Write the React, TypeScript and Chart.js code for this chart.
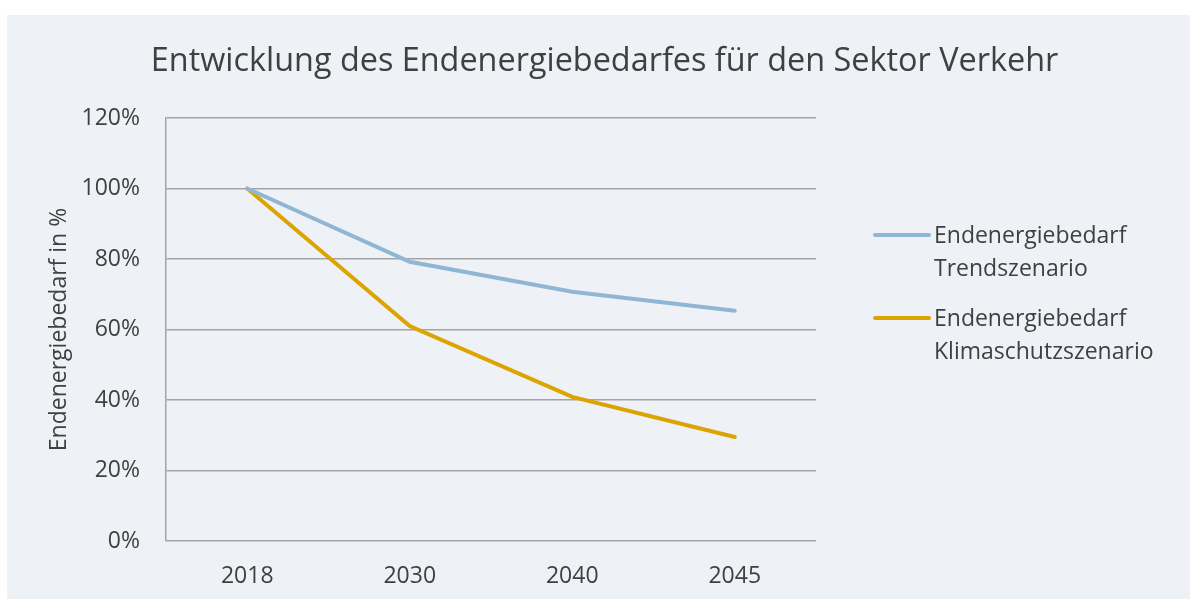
import React, { useEffect, useRef } from "react";
import { Chart, registerables } from "chart.js";

Chart.register(...registerables);

const categories = ["2018", "2030", "2040", "2045"];
const trendValues = [100, 79.2, 70.7, 65.3];
const klimaValues = [100, 61.0, 40.9, 29.5];
const seriesLabels = ["Endenergiebedarf Trendszenario", "Endenergiebedarf Klimaschutzszenario"];
const seriesColors = ["#8FB6D3", "#DCA400"];
const yMin = 0;
const yMax = 120;
const yStep = 20;
const chartTitle = "Entwicklung des Endenergiebedarfes für den Sektor Verkehr";
const yAxisTitle = "Endenergiebedarf in %";

const FONT = "'Open Sans', sans-serif";
const TEXT = "#404040";
const GRID = "#A3A3A3";
const SMALL = 23;

const overlay = {
  id: "overlay",
  afterDraw(chart: any) {
    const ctx = chart.ctx;
    const area = chart.chartArea;
    ctx.save();
    // title
    ctx.font = `32.4px ${FONT}`;
    ctx.fillStyle = TEXT;
    ctx.textAlign = "center";
    ctx.textBaseline = "middle";
    ctx.fillText(chartTitle, 597.5, 47);
    // legend
    const lineX0 = area.right + 59;
    const lineX1 = lineX0 + 54;
    const textX = lineX1 + 5;
    const firstY = area.top + 117;
    const entryGap = 83;
    const lineGap = 33;
    ctx.font = `${SMALL}px ${FONT}`;
    ctx.textAlign = "left";
    chart.data.datasets.forEach((ds: any, i: number) => {
      const y = firstY + i * entryGap;
      ctx.strokeStyle = ds.borderColor;
      ctx.lineWidth = 4;
      ctx.lineCap = "round";
      ctx.beginPath();
      ctx.moveTo(lineX0, y);
      ctx.lineTo(lineX1, y);
      ctx.stroke();
      ctx.fillStyle = TEXT;
      const parts = String(ds.label).split(" ");
      parts.forEach((p: string, j: number) => {
        ctx.fillText(p, textX, y + 1 + j * lineGap);
      });
    });
    ctx.restore();
  },
};

export default function App() {
  const ref = useRef<HTMLCanvasElement>(null);
  useEffect(() => {
    const chart = new Chart(ref.current as HTMLCanvasElement, {
      type: "line",
      data: {
        labels: categories,
        datasets: [
          {
            label: seriesLabels[0],
            data: trendValues,
            borderColor: seriesColors[0],
            backgroundColor: seriesColors[0],
            borderWidth: 4,
            pointRadius: 0,
            tension: 0,
            borderCapStyle: "round",
          },
          {
            label: seriesLabels[1],
            data: klimaValues,
            borderColor: seriesColors[1],
            backgroundColor: seriesColors[1],
            borderWidth: 4,
            pointRadius: 0,
            tension: 0,
            borderCapStyle: "round",
          },
        ],
      },
      options: {
        responsive: false,
        animation: false,
        devicePixelRatio: 1,
        layout: { padding: { left: 0, right: 374, top: 103, bottom: 0 } },
        plugins: {
          legend: { display: false },
          tooltip: { enabled: false },
          title: { display: false },
        },
        scales: {
          x: {
            type: "category",
            offset: true,
            grid: { display: false, drawTicks: false },
            border: { display: false },
            ticks: {
              color: TEXT,
              font: { family: FONT, size: SMALL },
              padding: 22,
            },
            afterFit: (scale: any) => {
              scale.height = 58;
            },
          },
          y: {
            min: yMin,
            max: yMax,
            grid: { color: GRID, lineWidth: 1.5, drawTicks: false },
            border: { display: true, color: GRID, width: 1.5 },
            ticks: {
              stepSize: yStep,
              color: TEXT,
              font: { family: FONT, size: SMALL },
              padding: 26,
              callback: (v: any) => `${v}%`,
            },
            title: {
              display: true,
              text: yAxisTitle,
              color: TEXT,
              font: { family: FONT, size: SMALL, lineHeight: 1.2 },
              padding: { top: 39, bottom: 0 },
            },
            afterFit: (scale: any) => {
              scale.width = 159;
            },
          },
        },
      },
      plugins: [overlay],
    } as any);
    return () => chart.destroy();
  }, []);
  return (
    <div
      style={{
        position: "fixed",
        left: 7,
        top: 15,
        width: 1183,
        height: 584,
        background: "#EEF2F6",
      }}
    >
      <canvas ref={ref} width={1183} height={584} style={{ display: "block" }} />
    </div>
  );
}
